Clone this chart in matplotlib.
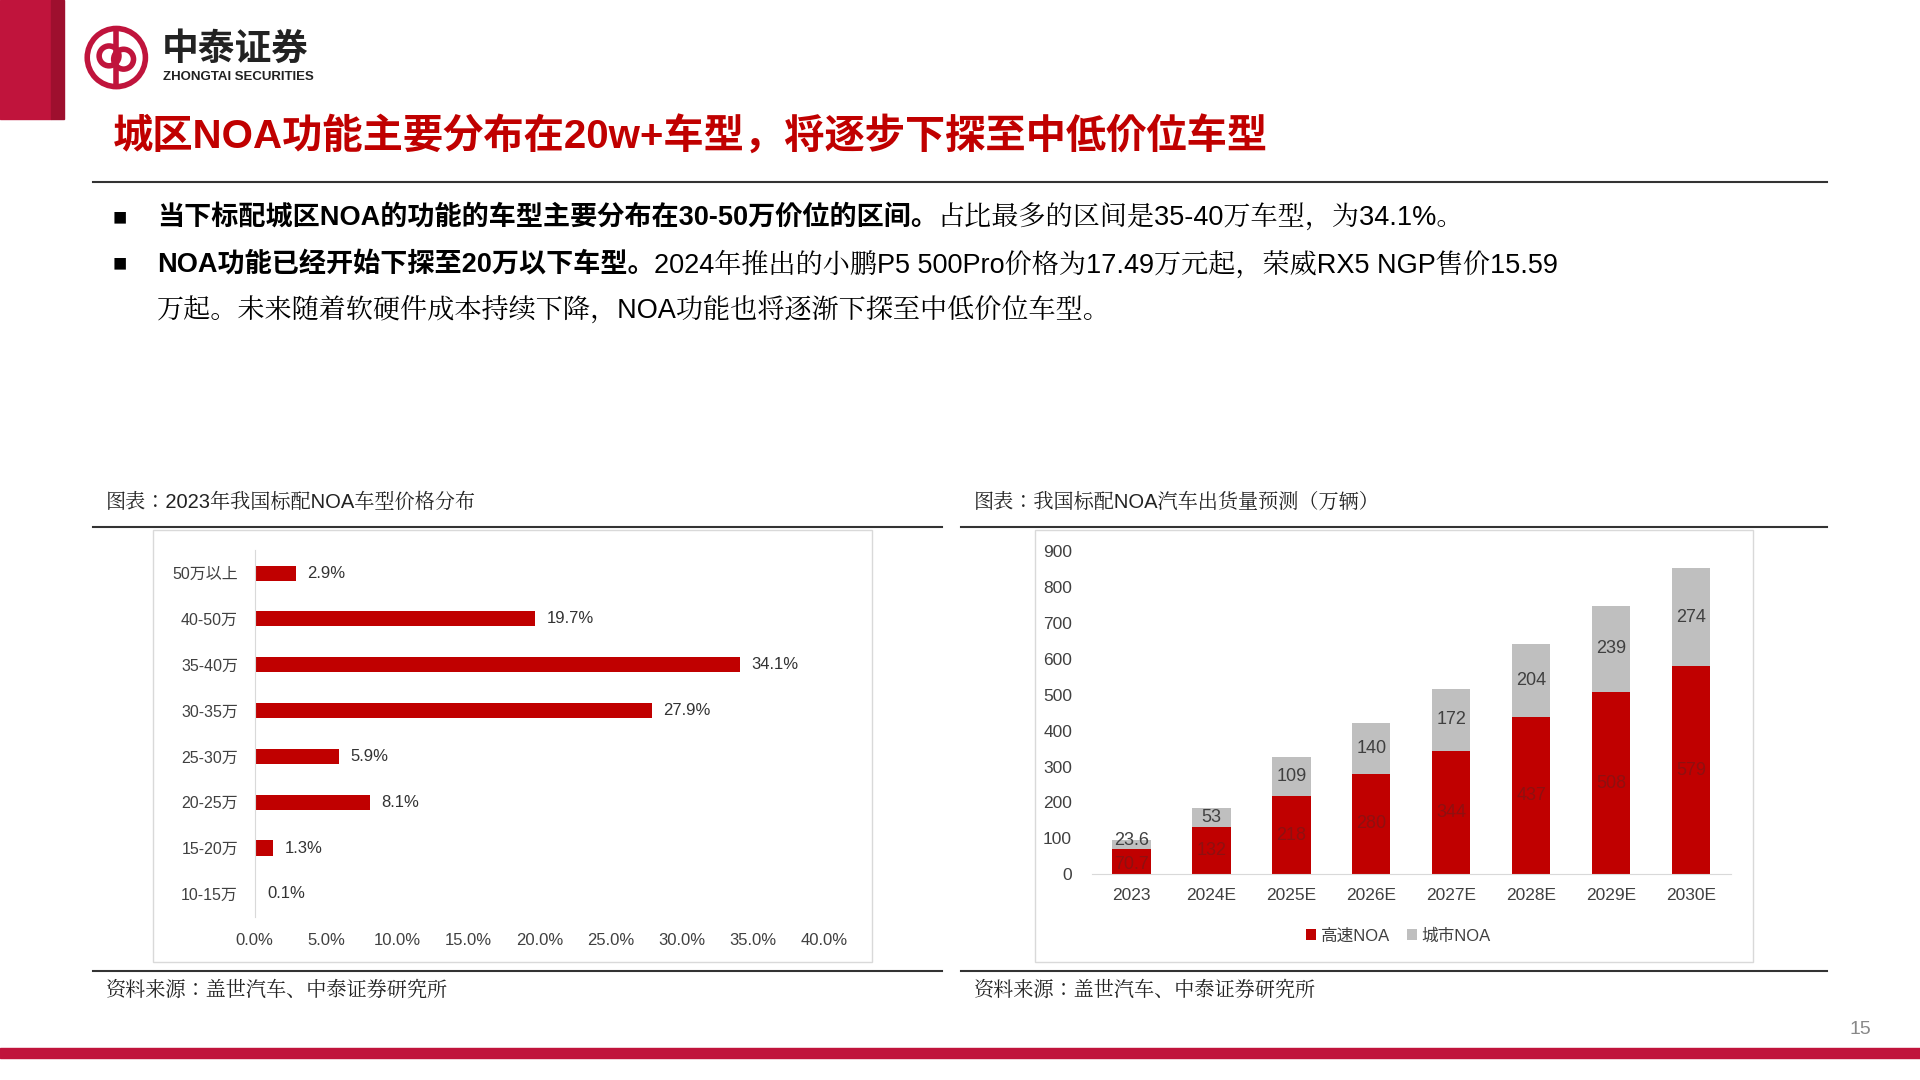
import matplotlib.pyplot as plt
from matplotlib.patches import Rectangle, Circle

SANS = ['Liberation Sans', 'Noto Sans CJK JP']
SERIF = ['Liberation Sans', 'Noto Serif CJK JP']
plt.rcParams['font.family'] = SANS

# left chart: price distribution of cars with urban NOA (2023)
price_bands = ['10-15万', '15-20万', '20-25万', '25-30万', '30-35万', '35-40万', '40-50万', '50万以上']
price_share = [0.1, 1.3, 8.1, 5.9, 27.9, 34.1, 19.7, 2.9]

# right chart: NOA shipments forecast (10k units)
years = ['2023', '2024E', '2025E', '2026E', '2027E', '2028E', '2029E', '2030E']
highway_noa = [70.7, 132, 218, 280, 344, 437, 508, 579]
city_noa = [23.6, 53, 109, 140, 172, 204, 239, 274]

RED = '#C00000'
BRAND = '#C0143C'
GREY = '#BFBFBF'
W, H = 1568, 882


def fx(x):
    return x / W


def fy(y):
    return 1 - y / H


fig = plt.figure(figsize=(19.2, 10.8), dpi=100)

# header decoration
fig.patches.append(Rectangle((0, fy(97)), fx(42), 97 / H, transform=fig.transFigure, color=BRAND))
fig.patches.append(Rectangle((fx(42), fy(97)), fx(10), 97 / H, transform=fig.transFigure, color='#9E0F2E'))
fig.patches.append(Rectangle((0, fy(864)), 1, 8 / H, transform=fig.transFigure, color=BRAND))
logo_ax = fig.add_axes([fx(68), fy(74), fx(54), 54 / H])
logo_ax.set_xlim(-1, 1)
logo_ax.set_ylim(-1, 1)
logo_ax.set_aspect('equal')
logo_ax.axis('off')
logo_ax.add_patch(Circle((0, 0), 0.88, fill=False, lw=4, ec=BRAND))
logo_ax.add_patch(Circle((-0.22, 0.05), 0.3, fill=False, lw=4, ec=BRAND))
logo_ax.add_patch(Circle((0.22, -0.05), 0.3, fill=False, lw=4, ec=BRAND))
logo_ax.plot([0, 0], [-0.85, 0.85], color=BRAND, lw=4)
fig.text(fx(132), fy(41), '中泰证券', fontsize=26.5, fontweight='bold', color='#222222', va='center')
fig.text(fx(133), fy(63), 'ZHONGTAI SECURITIES', fontsize=9.5, fontweight='bold', color='#222222', va='center')

fig.text(fx(92), fy(112), '城区NOA功能主要分布在20w+车型，将逐步下探至中低价位车型',
         fontsize=29, fontweight='bold', color=RED, va='center')
fig.add_artist(plt.Line2D([fx(76), fx(1492)], [fy(149), fy(149)], color='#333333', lw=1.5))

# bullets
bs = 19.5
for y in (178, 216):
    fig.text(fx(98), fy(y), '■', fontsize=17, va='center', ha='center')
t1 = fig.text(fx(128), fy(178), '当下标配城区NOA的功能的车型主要分布在30-50万价位的区间。',
              fontsize=bs, fontweight='bold', va='center')
fig.add_artist(plt.Annotation('占比最多的区间是35-40万车型，为34.1%。', xy=(1, 0.5), xycoords=t1,
                              va='center', fontsize=bs, family=SERIF))
t2 = fig.text(fx(128), fy(216), 'NOA功能已经开始下探至20万以下车型。', fontsize=bs, fontweight='bold', va='center')
fig.add_artist(plt.Annotation('2024年推出的小鹏P5 500Pro价格为17.49万元起，荣威RX5 NGP售价15.59',
                              xy=(1, 0.5), xycoords=t2, va='center', fontsize=bs, family=SERIF))
fig.text(fx(128), fy(253), '万起。未来随着软硬件成本持续下降，NOA功能也将逐渐下探至中低价位车型。',
         fontsize=bs, va='center', family=SERIF)

# captions and rules
for x0, x1 in ((76, 769), (785, 1492)):
    fig.add_artist(plt.Line2D([fx(x0), fx(x1)], [fy(430), fy(430)], color='#333333', lw=1.5))
    fig.add_artist(plt.Line2D([fx(x0), fx(x1)], [fy(793), fy(793)], color='#333333', lw=1.5))
cap = dict(fontsize=14.5, va='center', family=SERIF, color='#222222')
fig.text(fx(86), fy(410), '图表：2023年我国标配NOA车型价格分布', **cap)
fig.text(fx(795), fy(410), '图表：我国标配NOA汽车出货量预测（万辆）', **cap)
fig.text(fx(86), fy(808), '资料来源：盖世汽车、中泰证券研究所', **cap)
fig.text(fx(795), fy(808), '资料来源：盖世汽车、中泰证券研究所', **cap)
fig.text(fx(1528), fy(841), '15', fontsize=14, color='#888888', va='center', ha='right')
for x0, x1 in ((125, 712), (845, 1432)):
    fig.patches.append(Rectangle((fx(x0), fy(786)), fx(x1 - x0), 353 / H, transform=fig.transFigure,
                                 fill=False, ec='#D9D9D9', lw=1))

# left horizontal bar chart
ax1 = fig.add_axes([fx(208), fy(748.7), fx(465), 299.4 / H])
pos = range(len(price_bands))
ax1.barh(pos, price_share, height=0.33, color=RED)
for i, v in enumerate(price_share):
    ax1.text(v + 0.8, i, f'{v}%', va='center', fontsize=12, color='#333333')
ax1.set_xlim(0, 40)
ax1.set_ylim(-0.5, 7.5)
ax1.set_xticks(range(0, 41, 5))
ax1.set_xticklabels([f'{v:.1f}%' for v in range(0, 41, 5)], fontsize=12, color='#404040')
ax1.set_yticks(list(pos))
ax1.set_yticklabels(price_bands, fontsize=11.5, color='#404040')
for s in ('top', 'right', 'bottom'):
    ax1.spines[s].set_visible(False)
ax1.spines['left'].set_color('#D9D9D9')
ax1.tick_params(length=0, pad=12)

# right stacked bar chart
ax2 = fig.add_axes([fx(891.4), fy(714), fx(522.2), 264 / H])
xs = range(len(years))
ax2.bar(xs, highway_noa, width=0.48, color=RED, label='高速NOA')
ax2.bar(xs, city_noa, width=0.48, bottom=highway_noa, color=GREY, label='城市NOA')
for i in xs:
    h, c = highway_noa[i], city_noa[i]
    ax2.text(i, h / 2 if h > 100 else 28, f'{h:g}', ha='center', va='center', fontsize=13, color='#8E1010')
    ax2.text(i, h + c / 2 if c > 30 else h + c, f'{c:g}', ha='center', va='center', fontsize=13, color='#404040')
ax2.set_ylim(0, 900)
ax2.set_xlim(-0.5, 7.5)
ax2.set_yticks(range(0, 901, 100))
ax2.set_xticks(list(xs))
ax2.set_xticklabels(years)
ax2.tick_params(length=0, labelsize=12.5, colors='#404040')
ax2.tick_params(axis='y', pad=14)
ax2.tick_params(axis='x', pad=10)
for s in ('top', 'right', 'left'):
    ax2.spines[s].set_visible(False)
ax2.spines['bottom'].set_color('#D9D9D9')
ax2.legend(loc='upper center', bbox_to_anchor=(0.48, -0.12), ncol=2, frameon=False, fontsize=12,
           handlelength=0.6, handleheight=0.6, handletextpad=0.3, columnspacing=1.0, labelcolor='#404040')

fig.savefig('out.png', dpi=100)
